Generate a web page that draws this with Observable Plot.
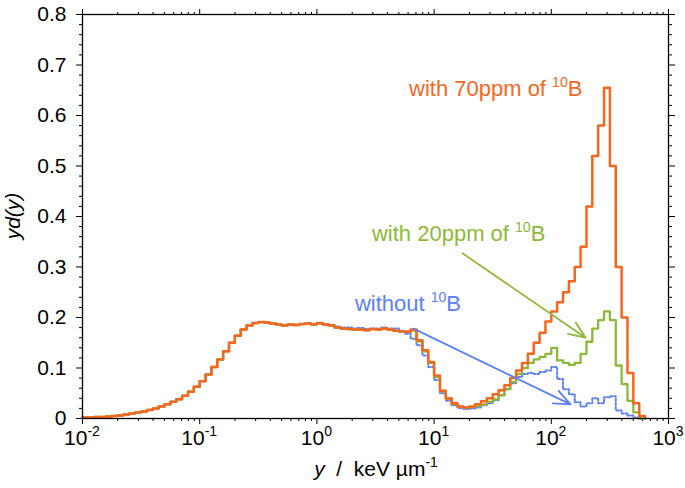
<!DOCTYPE html>
<html>
<head>
<meta charset="utf-8">
<script src="https://cdn.jsdelivr.net/npm/d3@7"></script>
<script src="https://cdn.jsdelivr.net/npm/@observablehq/plot@0.6"></script>
<style>
  html, body { margin: 0; padding: 0; background: #fff; }
  #chart { width: 685px; height: 488px; }
</style>
</head>
<body>
<div id="chart"></div>
<script>
// ---- DATA ----
// lower edge of each lineal-energy bin, as log10(y / keV µm^-1)
const logEdges = [
  -2.00,-1.95,-1.90,-1.85,-1.80,-1.75,-1.70,-1.65,-1.60,-1.55,
  -1.50,-1.45,-1.40,-1.35,-1.30,-1.25,-1.20,-1.15,-1.10,-1.05,
  -1.00,-0.95,-0.90,-0.85,-0.80,-0.75,-0.70,-0.65,-0.60,-0.55,
  -0.50,-0.45,-0.40,-0.35,-0.30,-0.25,-0.20,-0.15,-0.10,-0.05,
   0.00, 0.05, 0.10, 0.15, 0.20, 0.25, 0.30, 0.35, 0.40, 0.45,
   0.50, 0.55, 0.60, 0.65, 0.70, 0.75, 0.80, 0.85, 0.90, 0.95,
   1.00, 1.05, 1.10, 1.15, 1.20, 1.25, 1.30, 1.35, 1.40, 1.45,
   1.50, 1.55, 1.60, 1.65, 1.70, 1.75, 1.80, 1.85, 1.90, 1.95,
   2.00, 2.05, 2.10, 2.15, 2.20, 2.25, 2.30, 2.35, 2.40, 2.45,
   2.50, 2.55, 2.60, 2.65, 2.70, 2.75
];
const lastEdge = 2.80;

// yd(y) with 70 ppm of 10B
const with70ppm = [
  0.002,0.002,0.003,0.003,0.004,0.005,0.006,0.008,0.010,0.012,
  0.014,0.017,0.020,0.024,0.028,0.033,0.038,0.045,0.053,0.063,
  0.074,0.087,0.102,0.117,0.133,0.150,0.164,0.176,0.184,0.189,
  0.191,0.190,0.188,0.186,0.184,0.186,0.185,0.187,0.188,0.186,
  0.189,0.186,0.184,0.180,0.178,0.177,0.176,0.176,0.175,0.177,
  0.176,0.178,0.176,0.174,0.173,0.172,0.176,0.155,0.135,0.112,
  0.085,0.055,0.040,0.030,0.024,0.022,0.024,0.028,0.034,0.040,
  0.048,0.056,0.066,0.080,0.095,0.110,0.128,0.150,0.170,0.192,
  0.212,0.230,0.250,0.272,0.300,0.340,0.420,0.520,0.580,0.655,
  0.500,0.300,0.200,0.090,0.030,0.005
];

// yd(y) with 20 ppm of 10B
const with20ppm = [
  0.002,0.002,0.003,0.003,0.004,0.005,0.006,0.008,0.010,0.012,
  0.014,0.017,0.020,0.024,0.028,0.033,0.038,0.045,0.053,0.063,
  0.074,0.087,0.102,0.117,0.133,0.150,0.164,0.176,0.184,0.189,
  0.191,0.190,0.188,0.186,0.184,0.186,0.185,0.187,0.188,0.186,
  0.189,0.186,0.184,0.180,0.178,0.177,0.176,0.176,0.175,0.177,
  0.176,0.178,0.176,0.174,0.173,0.172,0.174,0.153,0.133,0.110,
  0.082,0.054,0.039,0.029,0.023,0.021,0.023,0.025,0.028,0.033,
  0.038,0.046,0.058,0.072,0.088,0.100,0.110,0.117,0.122,0.128,
  0.140,0.115,0.110,0.106,0.110,0.128,0.152,0.178,0.195,0.212,
  0.195,0.105,0.068,0.035,0.012,0.000
];

// yd(y) without 10B
const without10B = [
  0.002,0.002,0.003,0.003,0.004,0.005,0.006,0.008,0.010,0.012,
  0.014,0.017,0.020,0.024,0.028,0.033,0.038,0.045,0.053,0.063,
  0.074,0.087,0.102,0.117,0.133,0.150,0.164,0.176,0.184,0.189,
  0.191,0.190,0.188,0.186,0.184,0.186,0.186,0.187,0.189,0.187,
  0.188,0.187,0.185,0.182,0.180,0.180,0.178,0.179,0.177,0.178,
  0.178,0.180,0.178,0.178,0.172,0.168,0.158,0.145,0.125,0.102,
  0.076,0.050,0.035,0.026,0.021,0.019,0.020,0.022,0.026,0.030,
  0.036,0.046,0.058,0.070,0.082,0.088,0.090,0.088,0.092,0.095,
  0.102,0.078,0.058,0.048,0.032,0.024,0.030,0.040,0.030,0.042,
  0.044,0.016,0.010,0.006,0.002,0.000
];

// axes
const xMajorTicks = [0.01, 0.1, 1, 10, 100, 1000];
const xTickExponents = ["-2", "-1", "0", "1", "2", "3"];
const yMajorTicks = [0, 0.1, 0.2, 0.3, 0.4, 0.5, 0.6, 0.7, 0.8];
const yTickLabels = ["0", "0.1", "0.2", "0.3", "0.4", "0.5", "0.6", "0.7", "0.8"];
const yMinorStep = 0.02;

// series styling / annotation texts
const seriesNames = ["without 10B", "with 20ppm of 10B", "with 70ppm of 10B"];
const seriesColors = ["#5B80F7", "#8DB83A", "#F5661E"];
const annotationPrefix = ["without ", "with 20ppm of ", "with 70ppm of "];
// annotation anchor (left end of text baseline), in data units
const annotationX = [2.13, 2.98, 6.17];
const annotationY = [0.212, 0.350, 0.638];
// arrows (data units)
const arrowColor = ["#5B80F7", "#8DB83A"];
const arrowX1 = [6.67, 17.5];
const arrowY1 = [0.178, 0.327];
const arrowX2 = [146, 196];
const arrowY2 = [0.028, 0.160];

// ---- build tables ----
function toRows(values, name) {
  const rows = logEdges.map((e, i) => ({x: Math.pow(10, e), v: values[i], s: name}));
  rows.push({x: Math.pow(10, lastEdge), v: 0, s: name});
  return rows;
}
const rowsBlue = toRows(without10B, seriesNames[0]);
const rowsGreen = toRows(with20ppm, seriesNames[1]);
const rowsOrange = toRows(with70ppm, seriesNames[2]);

const xMinorTicks = [];
xMajorTicks.slice(0, -1).forEach(d => { for (let m = 2; m <= 9; m++) xMinorTicks.push(m * d); });
const yMinorTicks = d3.range(0, 0.8001, yMinorStep).filter(v => Math.abs(Math.round(v * 10) - v * 10) > 1e-6);

const arrows = arrowX1.map((d, i) => ({x1: d, y1: arrowY1[i], x2: arrowX2[i], y2: arrowY2[i], c: arrowColor[i]}));

const FONT = "'Liberation Sans', Arial, Helvetica, sans-serif";

const chart = Plot.plot({
  width: 685,
  height: 488,
  marginLeft: 82,
  marginRight: 17,
  marginTop: 14,
  marginBottom: 70,
  style: {background: "white", fontFamily: FONT, fontSize: "21px", color: "black"},
  x: {type: "log", domain: [0.01, 1000], label: null},
  y: {domain: [0, 0.8], label: null},
  marks: [
    // tick marks (outward on all four sides)
    Plot.axisX({anchor: "bottom", ticks: xMajorTicks, tickSize: 6, tickFormat: () => "", label: null}),
    Plot.axisX({anchor: "bottom", ticks: xMinorTicks, tickSize: 3, tickFormat: () => "", label: null}),
    Plot.axisX({anchor: "top", ticks: xMajorTicks, tickSize: 6, tickFormat: () => "", label: null}),
    Plot.axisX({anchor: "top", ticks: xMinorTicks, tickSize: 3, tickFormat: () => "", label: null}),
    Plot.axisY({anchor: "left", ticks: yMajorTicks, tickSize: 6, tickPadding: 10, fontSize: 21,
      tickFormat: d => { const i = yMajorTicks.findIndex(t => Math.abs(t - d) < 1e-9); return i >= 0 ? yTickLabels[i] : ""; },
      label: null}),
    Plot.axisY({anchor: "left", ticks: yMinorTicks, tickSize: 3, tickFormat: () => "", label: null}),
    Plot.axisY({anchor: "right", ticks: yMajorTicks, tickSize: 6, tickFormat: () => "", label: null}),
    Plot.axisY({anchor: "right", ticks: yMinorTicks, tickSize: 3, tickFormat: () => "", label: null}),
    // spectra
    Plot.line(rowsBlue, {x: "x", y: "v", curve: "step-after", stroke: seriesColors[0], strokeWidth: 2, strokeDasharray: "2,2"}),
    Plot.line(rowsGreen, {x: "x", y: "v", curve: "step-after", stroke: seriesColors[1], strokeWidth: 2.3}),
    Plot.line(rowsOrange, {x: "x", y: "v", curve: "step-after", stroke: seriesColors[2], strokeWidth: 2.5}),
    // arrows
    Plot.arrow(arrows, {x1: "x1", y1: "y1", x2: "x2", y2: "y2", stroke: "c", strokeWidth: 1.8, headLength: 15, headAngle: 45}),
    Plot.frame({stroke: "black", strokeWidth: 1.3})
  ]
});

document.getElementById("chart").appendChild(chart);

// ---- text with superscripts, positioned through Plot's scales ----
const xs = chart.scale("x"), ys = chart.scale("y");
const svg = d3.select(chart);
const g = svg.append("g").attr("font-family", FONT).attr("text-anchor", "start");

// x tick labels 10^n
xMajorTicks.forEach((v, i) => {
  const t = g.append("text")
    .attr("x", xs.apply(v)).attr("y", 445)
    .attr("text-anchor", "middle").attr("font-size", 21).attr("fill", "black");
  t.append("tspan").text("10");
  t.append("tspan").attr("font-size", 14).attr("dy", -9).text(xTickExponents[i]);
});

// x axis title
const xt = g.append("text")
  .attr("x", (xs.range[0] + xs.range[1]) / 2 + 1).attr("y", 476)
  .attr("text-anchor", "middle").attr("font-size", 21).attr("fill", "black");
xt.append("tspan").attr("font-style", "italic").text("y");
xt.append("tspan").text("  /  keV µm");
xt.append("tspan").attr("font-size", 14).attr("dy", -9).text("-1");

// y axis title
g.append("text")
  .attr("transform", `translate(20,${(ys.range[0] + ys.range[1]) / 2}) rotate(-90)`)
  .attr("text-anchor", "middle").attr("font-size", 21).attr("font-style", "italic").attr("fill", "black")
  .text("yd(y)");

// series annotations
annotationPrefix.forEach((p, i) => {
  const t = g.append("text")
    .attr("x", xs.apply(annotationX[i])).attr("y", ys.apply(annotationY[i]))
    .attr("text-anchor", "start")
    .attr("font-size", 22).attr("fill", seriesColors[i]);
  t.append("tspan").text(p);
  t.append("tspan").attr("font-size", 14).attr("dy", -9).text("10");
  t.append("tspan").attr("font-size", 22).attr("dy", 9).text("B");
});
</script>
</body>
</html>
